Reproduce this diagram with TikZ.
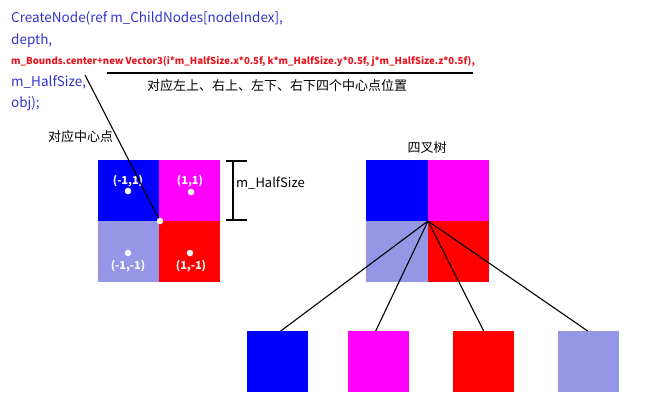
\documentclass[tikz,border=0pt]{standalone}
\usepackage{fontspec}
\setmainfont{Noto Sans CJK SC}
\definecolor{codeblue}{RGB}{51,51,204}
\definecolor{codered}{RGB}{230,20,30}
\definecolor{qblue}{RGB}{0,0,255}
\definecolor{qmag}{RGB}{255,0,255}
\definecolor{qred}{RGB}{255,0,0}
\definecolor{qlav}{RGB}{150,150,230}
\tikzset{
  codetxt/.style={anchor=west, inner sep=0pt, text=codeblue, font=\fontsize{13.5}{16}\selectfont},
  redtxt/.style={anchor=west, inner sep=0pt, text=codered, font=\fontsize{9.6}{12}\selectfont\bfseries},
  cntxt/.style={inner sep=0pt, text=black, font=\fontsize{13}{16}\selectfont},
  lbl/.style={inner sep=0pt, text=white, font=\fontsize{11}{13}\selectfont\bfseries},
  wdot/.style={circle, fill=white, inner sep=0pt, minimum size=6.5pt},
  conn/.style={draw=black, line width=1.1pt},
  brk/.style={draw=black, line width=1.6pt},
  child/.style={minimum size=61pt, inner sep=0pt, anchor=north west},
}
\begin{document}
\begin{tikzpicture}[x=1pt,y=-1pt]
\useasboundingbox (0,0) rectangle (650,408);
% code text
\node[codetxt] (l1) at (11,18) {CreateNode(ref m\_ChildNodes[nodeIndex],};
\node[codetxt] (l2) at (11,41) {depth,};
\node[redtxt] (l3) at (11,62) {m\_Bounds.center+new Vector3(i*m\_HalfSize.x*0.5f, k*m\_HalfSize.y*0.5f, j*m\_HalfSize.z*0.5f),};
\node[codetxt] (l4) at (11,82) {m\_HalfSize,};
\node[codetxt] (l5) at (11,104) {obj);};
\coordinate (ulA) at (107,73);
\coordinate (ulB) at (473,73);
\draw[conn] (ulA) -- (ulB);
\node[cntxt] (pos4) at (277,86) {对应左上、右上、左下、右下四个中心点位置};
\node[cntxt, anchor=west] (cen) at (48,137) {对应中心点};
% left grid
\fill[qblue] (98,160) rectangle (159,221);
\fill[qmag] (159,160) rectangle (220,221);
\fill[qlav] (98,221) rectangle (159,282);
\fill[qred] (159,221) rectangle (220,282);
\node[lbl] (tl) at (128,181) {(-1,1)};
\node[wdot] (dtl) at (128,191) {};
\node[lbl] (tr) at (190,181) {(1,1)};
\node[wdot] (dtr) at (191,192) {};
\node[wdot] (dbl) at (128,253) {};
\node[lbl] (bl) at (128,266) {(-1,-1)};
\node[wdot] (dbr) at (190,253) {};
\node[lbl] (br) at (191,266) {(1,-1)};
\coordinate (lnA) at (85,75);
\draw[conn] (lnA) -- (160,221);
\node[wdot] (dc) at (160,221) {};
% bracket
\coordinate (bt1) at (226,161);
\coordinate (bt2) at (247,161);
\coordinate (bb1) at (226,220);
\coordinate (bb2) at (247,220);
\coordinate (bvt) at (233,161);
\coordinate (bvb) at (233,220);
\draw[brk] (bt1) -- (bt2);
\draw[brk] (bb1) -- (bb2);
\draw[brk] (bvt) -- (bvb);
\node[cntxt, anchor=west] (hs) at (236,183) {m\_HalfSize};
% right tree
\node[cntxt] (qt) at (427,148) {四叉树};
\fill[qblue] (366,160) rectangle (428,221);
\fill[qmag] (428,160) rectangle (489,221);
\fill[qlav] (366,221) rectangle (428,282);
\fill[qred] (428,221) rectangle (489,282);
\coordinate (root) at (428,221);
\node[child, fill=qblue] (c1) at (247,331) {};
\node[child, fill=qmag] (c2) at (348,331) {};
\node[child, fill=qred] (c3) at (453,331) {};
\node[child, fill=qlav] (c4) at (558,331) {};
\draw[conn] (root) -- ([xshift=3pt]c1.north);
\draw[conn] (root) -- ([xshift=-3pt]c2.north);
\draw[conn] (root) -- (c3.north);
\draw[conn] (root) -- ([xshift=-1pt]c4.north);
\end{tikzpicture}
\end{document}
